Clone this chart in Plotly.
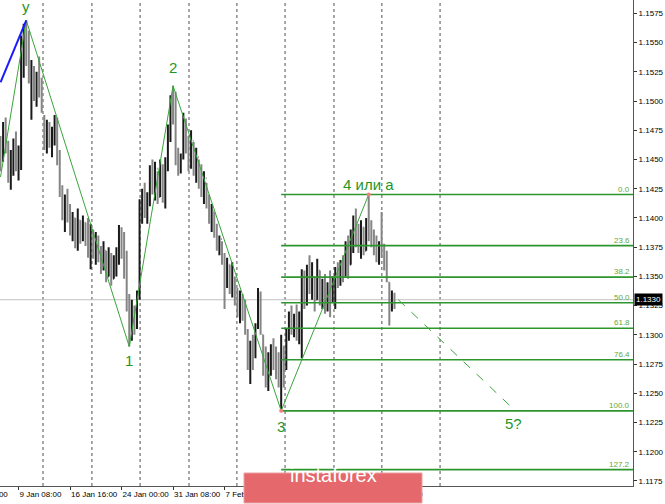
import plotly.graph_objects as go

# ---------------- data (EURUSD H4) ----------------
bar_open = [1.1465,1.1450,1.1476,1.1460,1.1436,1.1452,1.1464,1.1446,1.1458,1.1548,
            1.1560,1.1540,1.1522,1.1528,1.1506,1.1520,1.1510,1.1486,1.1462,1.1478,
            1.1464,1.1474,1.1484,1.1450,1.1422,1.1402,1.1414,1.1400,1.1390,1.1400,
            1.1378,1.1398,1.1384,1.1396,1.1382,1.1370,1.1388,1.1372,1.1380,1.1366,
            1.1358,1.1372,1.1350,1.1368,1.1348,1.1362,1.1372,1.1390,1.1370,1.1352,
            1.1326,1.1300,1.1322,1.1308,1.1334,1.1410,1.1420,1.1405,1.1418,1.1440,
            1.1426,1.1442,1.1418,1.1444,1.1420,1.1446,1.1476,1.1498,1.1486,1.1450,
            1.1440,1.1452,1.1482,1.1462,1.1448,1.1466,1.1440,1.1452,1.1430,1.1422,
            1.1434,1.1412,1.1398,1.1406,1.1386,1.1376,1.1382,1.1364,1.1345,1.1360,
            1.1340,1.1348,1.1330,1.1320,1.1334,1.1316,1.1304,1.1276,1.1290,1.1282,
            1.1306,1.1334,1.1300,1.1270,1.1260,1.1280,1.1288,1.1274,1.1266,1.1260,
            1.1290,1.1272,1.1300,1.1316,1.1305,1.1314,1.1300,1.1300,1.1350,1.1330,
            1.1354,1.1340,1.1348,1.1330,1.1355,1.1330,1.1342,1.1322,1.1340,1.1330,
            1.1340,1.1354,1.1345,1.1360,1.1350,1.1376,1.1360,1.1386,1.1396,1.1380,
            1.1374,1.1392,1.1372,1.1396,1.1384,1.1378,1.1372,1.1366,1.1376,1.1370,
            1.1360,1.1345,1.1325,1.1334]
bar_high = [1.1470,1.1482,1.1486,1.1466,1.1458,1.1468,1.1474,1.1462,1.1556,1.1566,
            1.1569,1.1560,1.1535,1.1530,1.1525,1.1538,1.1520,1.1488,1.1484,1.1482,
            1.1478,1.1488,1.1486,1.1458,1.1428,1.1420,1.1425,1.1412,1.1405,1.1400,
            1.1408,1.1398,1.1402,1.1396,1.1400,1.1395,1.1390,1.1388,1.1385,1.1376,
            1.1380,1.1372,1.1375,1.1370,1.1368,1.1375,1.1394,1.1392,1.1388,1.1372,
            1.1335,1.1330,1.1325,1.1338,1.1416,1.1425,1.1430,1.1422,1.1445,1.1450,
            1.1448,1.1440,1.1450,1.1446,1.1452,1.1480,1.1505,1.1513,1.1508,1.1460,
            1.1455,1.1490,1.1485,1.1470,1.1475,1.1465,1.1460,1.1450,1.1446,1.1440,
            1.1430,1.1420,1.1412,1.1405,1.1395,1.1385,1.1380,1.1370,1.1366,1.1360,
            1.1362,1.1350,1.1340,1.1338,1.1335,1.1330,1.1305,1.1295,1.1300,1.1310,
            1.1340,1.1337,1.1300,1.1290,1.1285,1.1292,1.1297,1.1290,1.1285,1.1300,
            1.1290,1.1305,1.1320,1.1325,1.1318,1.1326,1.1320,1.1356,1.1355,1.1360,
            1.1368,1.1362,1.1350,1.1365,1.1355,1.1348,1.1352,1.1345,1.1355,1.1350,
            1.1358,1.1362,1.1364,1.1368,1.1380,1.1385,1.1390,1.1402,1.1408,1.1395,
            1.1398,1.1392,1.1400,1.1420,1.1398,1.1390,1.1385,1.1380,1.1405,1.1378,
            1.1372,1.1345,1.1338,1.1336]
bar_low = [1.1440,1.1448,1.1455,1.1430,1.1424,1.1436,1.1440,1.1432,1.1441,1.1520,
           1.1530,1.1515,1.1484,1.1500,1.1495,1.1503,1.1490,1.1458,1.1455,1.1460,
           1.1452,1.1462,1.1445,1.1418,1.1398,1.1388,1.1396,1.1385,1.1380,1.1374,
           1.1372,1.1378,1.1380,1.1376,1.1366,1.1356,1.1365,1.1360,1.1362,1.1352,
           1.1355,1.1345,1.1350,1.1342,1.1348,1.1350,1.1360,1.1365,1.1348,1.1320,
           1.1290,1.1295,1.1300,1.1305,1.1330,1.1395,1.1400,1.1395,1.1410,1.1420,
           1.1415,1.1412,1.1418,1.1413,1.1408,1.1440,1.1465,1.1480,1.1445,1.1436,
           1.1438,1.1450,1.1455,1.1440,1.1442,1.1436,1.1430,1.1425,1.1418,1.1412,
           1.1408,1.1395,1.1388,1.1383,1.1372,1.1368,1.1360,1.1322,1.1340,1.1335,
           1.1332,1.1325,1.1315,1.1310,1.1312,1.1300,1.1270,1.1258,1.1270,1.1280,
           1.1305,1.1300,1.1265,1.1255,1.1252,1.1265,1.1270,1.1262,1.1255,1.1235,
           1.1255,1.1270,1.1295,1.1300,1.1298,1.1295,1.1292,1.1280,1.1322,1.1325,
           1.1335,1.1330,1.1320,1.1330,1.1325,1.1322,1.1318,1.1320,1.1315,1.1328,
           1.1322,1.1340,1.1342,1.1345,1.1350,1.1348,1.1360,1.1370,1.1375,1.1370,
           1.1365,1.1368,1.1372,1.1380,1.1375,1.1368,1.1362,1.1360,1.1366,1.1355,
           1.1345,1.1308,1.1320,1.1322]
bar_close = [1.1448,1.1476,1.1460,1.1436,1.1452,1.1464,1.1446,1.1458,1.1548,1.1560,
             1.1540,1.1522,1.1530,1.1506,1.1520,1.1510,1.1494,1.1462,1.1478,1.1464,
             1.1474,1.1484,1.1450,1.1422,1.1402,1.1414,1.1400,1.1390,1.1400,1.1378,
             1.1398,1.1384,1.1396,1.1382,1.1370,1.1388,1.1372,1.1380,1.1366,1.1358,
             1.1372,1.1350,1.1368,1.1348,1.1362,1.1372,1.1390,1.1370,1.1352,1.1326,
             1.1300,1.1322,1.1308,1.1334,1.1410,1.1420,1.1405,1.1418,1.1440,1.1426,
             1.1442,1.1418,1.1444,1.1420,1.1446,1.1476,1.1498,1.1486,1.1450,1.1440,
             1.1452,1.1482,1.1462,1.1448,1.1466,1.1440,1.1452,1.1430,1.1422,1.1434,
             1.1412,1.1398,1.1406,1.1386,1.1376,1.1382,1.1364,1.1345,1.1360,1.1340,
             1.1356,1.1330,1.1320,1.1334,1.1316,1.1304,1.1276,1.1290,1.1275,1.1306,
             1.1334,1.1304,1.1270,1.1260,1.1280,1.1288,1.1274,1.1266,1.1260,1.1290,
             1.1266,1.1300,1.1316,1.1305,1.1314,1.1300,1.1310,1.1350,1.1330,1.1354,
             1.1340,1.1356,1.1324,1.1360,1.1330,1.1342,1.1322,1.1340,1.1330,1.1346,
             1.1354,1.1345,1.1360,1.1350,1.1376,1.1360,1.1386,1.1396,1.1380,1.1374,
             1.1392,1.1372,1.1396,1.1384,1.1378,1.1372,1.1366,1.1376,1.1370,1.1360,
             1.1348,1.1325,1.1334,1.1330]
bar_index = list(range(len(bar_high)))

# wave count (bar index, price)
wave_idx = [0, 10, 50, 67, 109, 143]
wave_price = [1.1435, 1.1569, 1.1290, 1.1513, 1.1235, 1.1420]
blue_idx = [0, 10]
blue_price = [1.1516, 1.1569]
proj_idx = [154.5, 198.5]
proj_price = [1.1330, 1.1238]

fib_levels = [0.0, 23.6, 38.2, 50.0, 61.8, 76.4, 100.0, 127.2]
fib_top = 1.1420
fib_bottom = 1.1235
fib_start = 109

current_price = 1.1330

grid_idx = [16.5, 35.5, 54.2, 73.2, 91.8, 110.5, 129.5, 148.1, 170.7]

x_tick_pos = [7, 27, 47, 67, 87, 107, 127, 147]
x_tick_text = ["9 Jan 08:00", "16 Jan 16:00", "24 Jan 00:00", "31 Jan 08:00",
               "7 Feb 16:00", "15 Feb 00:00", "22 Feb 08:00", "1 Mar 16:00"]
y_tick_vals = [1.1175, 1.1200, 1.1225, 1.1250, 1.1275, 1.1300, 1.1325, 1.1350,
               1.1375, 1.1400, 1.1425, 1.1450, 1.1475, 1.1500, 1.1525, 1.1550, 1.1575]

X_RANGE = [-0.2, 245.63]
Y_RANGE = [1.11707, 1.15864]

LABEL_GREEN = "#1f961f"
FONT = "Liberation Sans, Arial, sans-serif"

fig = go.Figure()

# vertical dotted grid
for gx in grid_idx:
    fig.add_shape(type="line", x0=gx, x1=gx, y0=0, y1=1, xref="x", yref="paper",
                  line=dict(color="#505050", width=1, dash="dot"), layer="below")

# current price line
fig.add_shape(type="line", x0=0, x1=1, xref="paper", y0=current_price, y1=current_price,
              yref="y", line=dict(color="#c0c0c0", width=1), layer="below")

# price bars
fig.add_trace(go.Ohlc(x=bar_index, open=bar_open, high=bar_high, low=bar_low, close=bar_close,
                      increasing=dict(line=dict(color="#1a1a1a", width=2)),
                      decreasing=dict(line=dict(color="#858585", width=2)),
                      tickwidth=0.3, showlegend=False, hoverinfo="skip"))

# fibonacci levels
for lv in fib_levels:
    p = fib_top - lv / 100.0 * (fib_top - fib_bottom)
    fig.add_trace(go.Scatter(x=[fib_start, X_RANGE[1]], y=[p, p], mode="lines",
                             line=dict(color="#2e962e", width=1.6), showlegend=False,
                             hoverinfo="skip"))
    fig.add_annotation(x=1, xref="paper", y=p, yref="y", text=f"{lv:.1f}",
                       showarrow=False, xanchor="right", yanchor="bottom", xshift=-1,
                       yshift=-1, font=dict(family=FONT, size=8, color="#63a83c"))

# wave lines
fig.add_trace(go.Scatter(x=wave_idx, y=wave_price, mode="lines",
                         line=dict(color="#3aa53a", width=1), showlegend=False,
                         hoverinfo="skip"))
fig.add_trace(go.Scatter(x=blue_idx, y=blue_price, mode="lines",
                         line=dict(color="#1a1aff", width=2), showlegend=False,
                         hoverinfo="skip"))
fig.add_trace(go.Scatter(x=proj_idx, y=proj_price, mode="lines",
                         line=dict(color="#3aa53a", width=1, dash="dash"), showlegend=False,
                         hoverinfo="skip"))
fig.add_trace(go.Scatter(x=wave_idx[4:], y=wave_price[4:], mode="markers",
                         marker=dict(color="#f08080", size=4), showlegend=False,
                         hoverinfo="skip"))

# wave labels
labels = [("y", 10, 1.1581), ("2", 67, 1.1529), ("1", 50, 1.1278), ("3", 109, 1.1222),
          ("4 или а", 143, 1.1429), ("5?", 199.4, 1.1224)]
for txt, lx, ly in labels:
    fig.add_annotation(x=lx, y=ly, text=txt, showarrow=False,
                       font=dict(family=FONT, size=15, color=LABEL_GREEN))

# partially visible first date label
fig.add_annotation(x=10 / 633, xref="paper", y=0, yref="paper", yshift=-15,
                   text="2 Jan 00:00", showarrow=False, xanchor="right",
                   font=dict(family=FONT, size=8, color="#000000"))

# current price box
fig.add_annotation(x=1, xref="paper", y=current_price, yref="y", text="1.1330",
                   showarrow=False, xanchor="left", xshift=1, bgcolor="#000000",
                   borderpad=1, font=dict(family=FONT, size=8, color="#ffffff"))

# watermark
fig.add_shape(type="rect", xref="paper", yref="paper", x0=244 / 633, x1=422 / 633,
              y0=-17 / 486, y1=13 / 486, fillcolor="#e4686c",
              line=dict(color="#eca0a2", width=1), layer="above")
fig.add_annotation(xref="paper", yref="paper", x=333 / 633, y=-2 / 486, text="instaforex",
                   showarrow=False, font=dict(family=FONT, size=20, color="#ffffff"))

fig.update_layout(
    width=665, height=504, margin=dict(l=0, r=32, t=0, b=18),
    paper_bgcolor="#ffffff", plot_bgcolor="#ffffff", showlegend=False,
    xaxis=dict(range=X_RANGE, showgrid=False, zeroline=False, tickvals=x_tick_pos,
               ticktext=x_tick_text, ticks="outside", ticklen=3, tickcolor="#333333",
               showline=True, linecolor="#555555", ticklabelposition="outside right",
               tickangle=0, automargin=False,
               tickfont=dict(family=FONT, size=8, color="#000000"),
               rangeslider=dict(visible=False), fixedrange=True),
    yaxis=dict(range=Y_RANGE, side="right", showgrid=False, zeroline=False,
               tickvals=y_tick_vals, ticktext=[f"{v:.4f}" for v in y_tick_vals],
               ticks="outside", ticklen=3, tickcolor="#333333", showline=True,
               automargin=False,
               linecolor="#555555", tickfont=dict(family=FONT, size=8, color="#000000"),
               fixedrange=True),
)

fig.write_html("out.html", config={"displayModeBar": False},
               post_script="document.body.style.margin='0';document.body.style.overflow='hidden';")
